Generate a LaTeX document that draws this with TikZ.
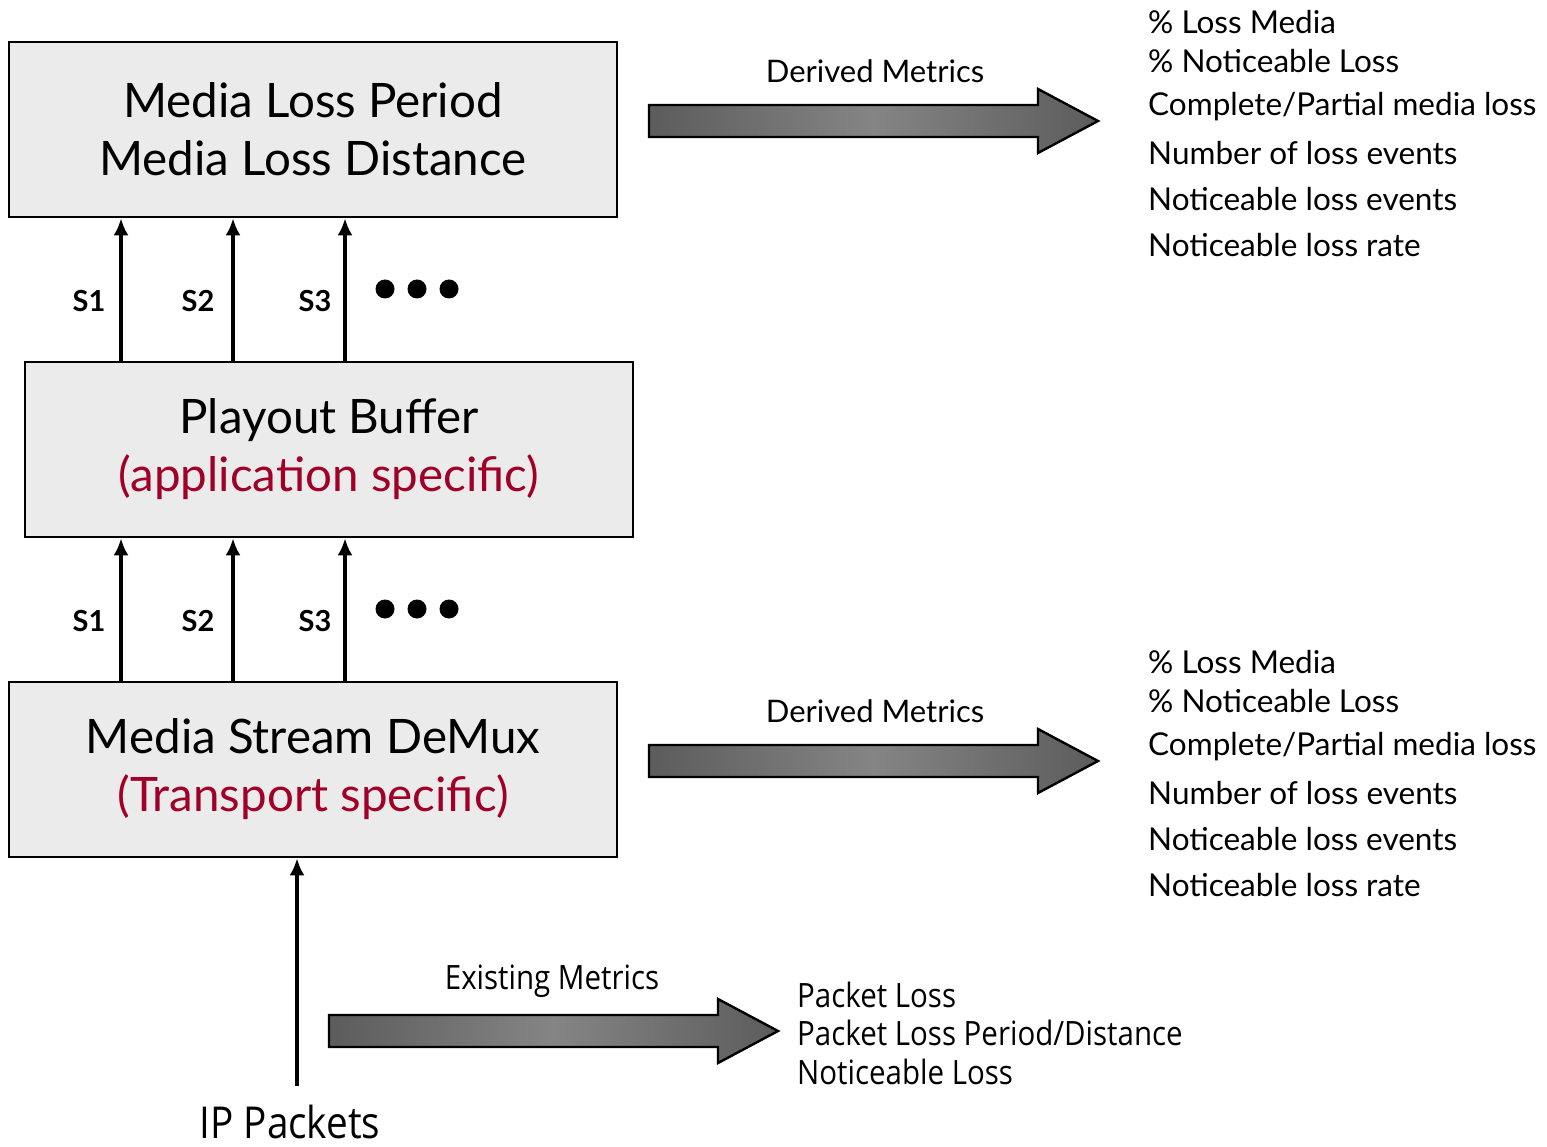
\documentclass[tikz,border=0pt]{standalone}
\usepackage{fontspec}
\setmainfont{Lato}
\newfontfamily\condensed[FakeStretch=0.88]{Open Sans}
\usetikzlibrary{arrows.meta}
\definecolor{boxgray}{RGB}{235,235,235}
\definecolor{crimson}{RGB}{160,0,40}
\pgfdeclarehorizontalshading{fatshade}{100bp}{color(0bp)=(black!80); color(50bp)=(black!48); color(100bp)=(black!80)}
\begin{document}
\begin{tikzpicture}[x=1pt,y=-1pt,
  box/.style={draw=black, line width=2.6pt, fill=boxgray, minimum width=608pt, minimum height=175pt, inner sep=0pt, align=center, font=\fontsize{47.5}{58}\selectfont},
  up/.style={line width=3.6pt, -{Latex[length=17pt,width=15pt]}},
  slabel/.style={font=\bfseries\fontsize{29}{30}\selectfont},
  fat/.style={draw=black, line width=2.4pt, line join=miter, shading=fatshade},
  metric/.style={font=\fontsize{31}{34}\selectfont},
  item/.style={anchor=west, inner sep=0pt, font=\fontsize{31.5}{34}\selectfont},
  dot/.style={fill=black, circle, minimum size=19pt, inner sep=0pt}]
\useasboundingbox (0,0) rectangle (1547,1147);

% boxes
\node[box] (b1) at (313,129.5) {Media Loss Period\\Media Loss Distance};
\node[box] (b2) at (329,449.5) {Playout Buffer\\\textcolor{crimson}{(application specific)}};
\node[box] (b3) at (313,769.5) {Media Stream DeMux\\\textcolor{crimson}{(Transport specific)}};

% stream arrows
\foreach \x/\l/\lx in {121/S1/89, 233/S2/198, 345/S3/315}{
  \draw[up] (b2.north -| \x,0) -- (b1.south -| \x,0);
  \draw[up] (b3.north -| \x,0) -- (b2.south -| \x,0);
  \node[slabel] (u\l) at (\lx,301) {\l};
  \node[slabel] (d\l) at (\lx,621) {\l};
}
\foreach \x [count=\i] in {385,417,449}{
  \node[dot] (ud\i) at (\x,289) {};
  \node[dot] (dd\i) at (\x,609) {};
}

% IP packets
\node[inner sep=0pt, font=\condensed\fontsize{44}{46}\selectfont] (ip) at (290,1122) {IP Packets};
\coordinate (ipstart) at (297,1086);
\draw[up] (ipstart) -- (b3.south -| ipstart);

% fat arrows
\foreach \n/\xa/\xb/\xh/\yc in {fa1/649/1098/1038/121, fa2/649/1098/1038/761, fa3/329/778/718/1031}{
  \path[fat] (\xa,\yc-16) -- (\xh,\yc-16) -- (\xh,\yc-32) -- (\xb,\yc) -- (\xh,\yc+32) -- (\xh,\yc+16) -- (\xa,\yc+16) -- cycle;
}
\node[metric] (dm1) at (875,71) {Derived Metrics};
\node[metric] (dm2) at (875,711) {Derived Metrics};
\node[font=\condensed\fontsize{33.5}{36}\selectfont] (em) at (552,981) {Existing Metrics};

% metric lists
\foreach \t/\dy [count=\i] in {{\% Loss Media}/22, {\% Noticeable Loss}/61, {Complete/Partial media loss}/107, {Number of loss events}/153, {Noticeable loss events}/199, {Noticeable loss rate}/245}{
  \node[item] (ta\i) at (1148,\dy) {\t};
  \node[item] (tb\i) at (1148,\dy+640) {\t};
}
\foreach \t/\dy [count=\i] in {{Packet Loss}/995, {Packet Loss Period/Distance}/1033, {Noticeable Loss}/1072}{
  \node[item, font=\condensed\fontsize{33.5}{36}\selectfont] (pl\i) at (797,\dy) {\t};
}
\end{tikzpicture}
\end{document}
